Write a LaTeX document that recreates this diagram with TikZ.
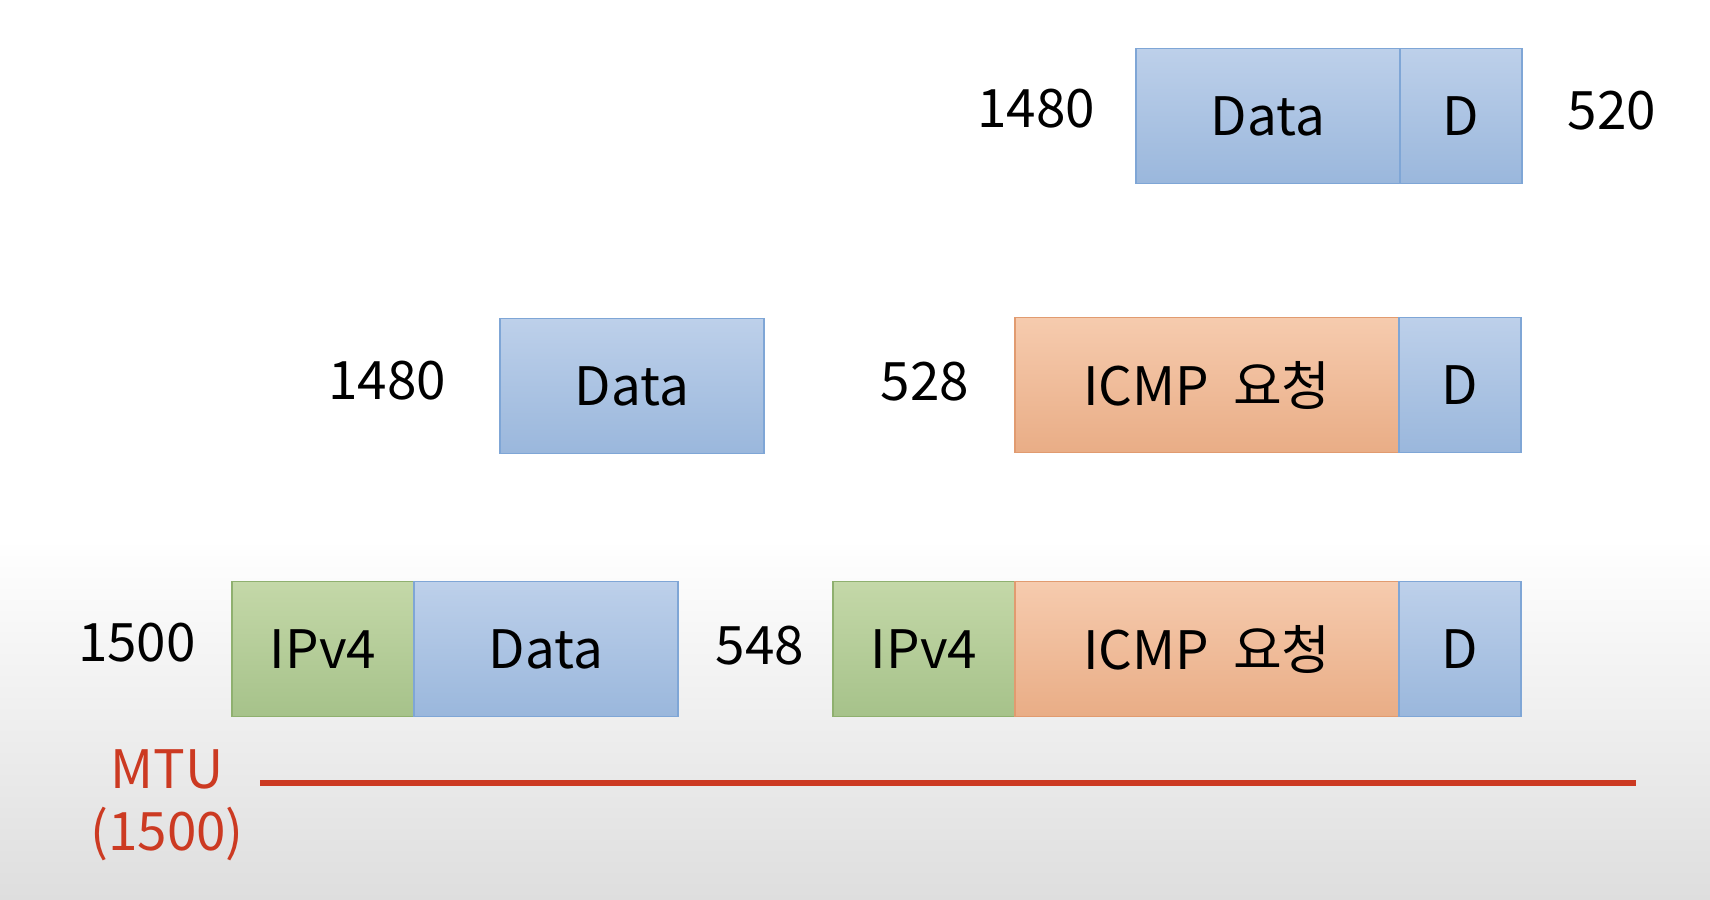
\documentclass[tikz,border=0pt]{standalone}
\usepackage{fontspec}
\setmainfont{Noto Sans CJK KR}
\usetikzlibrary{positioning}

\definecolor{blueTop}{HTML}{BDD0EA}
\definecolor{blueBot}{HTML}{9AB7DC}
\definecolor{blueEdge}{HTML}{7FA6D6}
\definecolor{greenTop}{HTML}{C4D8A8}
\definecolor{greenBot}{HTML}{A6C28A}
\definecolor{greenEdge}{HTML}{8FB06F}
\definecolor{orangeTop}{HTML}{F6CBAE}
\definecolor{orangeBot}{HTML}{E9AD86}
\definecolor{orangeEdge}{HTML}{E19B70}
\definecolor{mtuRed}{HTML}{CC3A22}
\definecolor{bgGray}{HTML}{DEDEDE}

\tikzset{
  pkt/.style={draw, line width=0.75pt, minimum height=67.5pt, inner sep=0pt,
    outer sep=0pt, font=\fontsize{26.5}{30}\selectfont},
  datapkt/.style={pkt, draw=blueEdge, top color=blueTop, bottom color=blueBot,
    minimum width=132pt},
  dpkt/.style={pkt, draw=blueEdge, top color=blueTop, bottom color=blueBot,
    minimum width=61pt},
  ippkt/.style={pkt, draw=greenEdge, top color=greenTop, bottom color=greenBot,
    minimum width=91pt},
  icmppkt/.style={pkt, draw=orangeEdge, top color=orangeTop, bottom color=orangeBot,
    minimum width=192pt},
  sizelbl/.style={font=\fontsize{26.5}{30}\selectfont},
  mtulbl/.style={font=\fontsize{26.5}{30}\selectfont, text=mtuRed}
}

\begin{document}
\begin{tikzpicture}[x=0.5pt,y=-0.5pt]
% background
\useasboundingbox (0,0) rectangle (1710,900);
\fill[white] (0,0) rectangle (1710,540);
\shade[top color=white, bottom color=bgGray] (0,539) rectangle (1710,900);

% top row
\node[datapkt, anchor=west] (topData) at (1136,116) {Data};
\node[dpkt, right=0pt of topData] (topD) {D};
\node[sizelbl] (topLeft) at (1036,109) {1480};
\node[sizelbl] (topRight) at (1612,111) {520};

% middle row
\node[datapkt, anchor=west] (midData) at (500,386) {Data};
\node[sizelbl] (midDataLbl) at (387,381) {1480};
\node[icmppkt, anchor=west] (midIcmp) at (1015,385) {ICMP\hspace{0.45em}요청};
\node[dpkt, right=0pt of midIcmp] (midD) {D};
\node[sizelbl] (midIcmpLbl) at (925,382) {528};

% bottom row
\node[ippkt, anchor=west] (botIp) at (232,649) {IPv4};
\node[datapkt, right=0pt of botIp] (botData) {Data};
\node[sizelbl] (botDataLbl) at (137,643) {1500};
\node[ippkt, anchor=west] (botIpB) at (833,649) {IPv4};
\node[icmppkt, right=0pt of botIpB] (botIcmp) {ICMP\hspace{0.45em}요청};
\node[dpkt, right=0pt of botIcmp] (botD) {D};
\node[sizelbl] (botIcmpLbl) at (760,646) {548};

% MTU
\node[mtulbl] (mtu) at (167,769) {MTU};
\node[mtulbl] (mtuVal) at (167,834) {(1500)};
\coordinate (mtuL) at (260,783);
\coordinate (mtuR) at (1636,783);
\draw[mtuRed, line width=3pt] (mtuL) -- (mtuR);
\end{tikzpicture}
\end{document}
